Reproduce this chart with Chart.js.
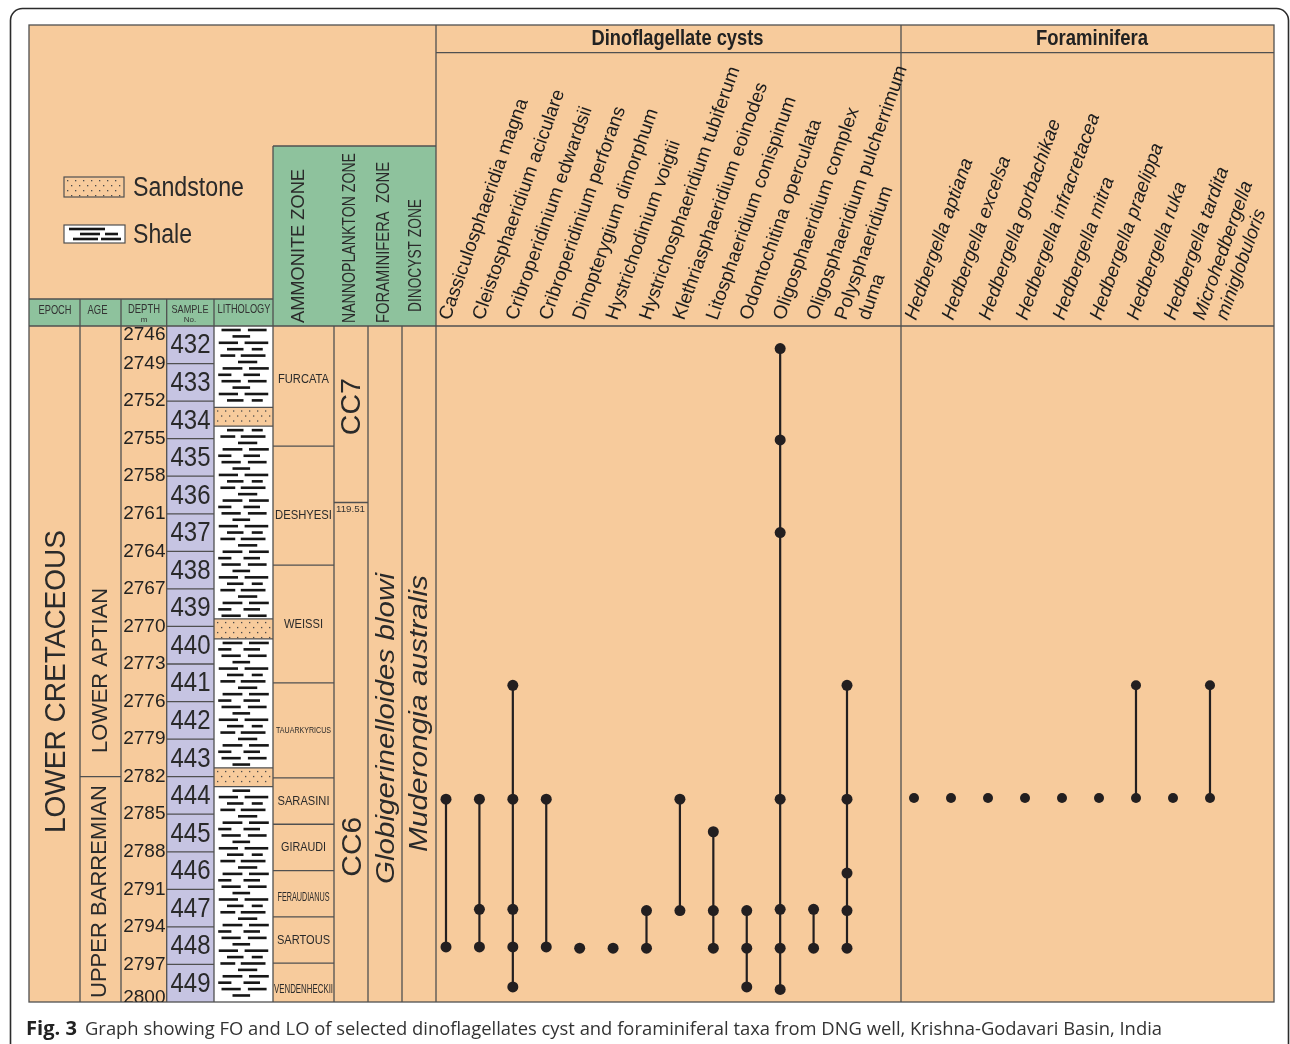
<!DOCTYPE html>
<html><head><meta charset="utf-8">
<script src="https://cdn.jsdelivr.net/npm/chart.js"></script>
<style>html,body{margin:0;padding:0;background:#fff}canvas{display:block}</style>
</head><body>
<canvas id="c" width="1290" height="1044" style="width:1290px;height:1044px"></canvas>
<script>
// ---------------- DATA ----------------
const depthTicks = [2746,2749,2752,2755,2758,2761,2764,2767,2770,2773,2776,2779,2782,2785,2788,2791,2794,2797,2800];
const sampleNos = ['432','433','434','435','436','437','438','439','440','441','442','443','444','445','446','447','448','449'];
const epochName = 'LOWER CRETACEOUS';
const ageNames = ['LOWER APTIAN','UPPER BARREMIAN'];
const ageBounds = [2746, 2782, 2800];
const ammoniteZones = ['FURCATA','DESHYESI','WEISSI','TAUARKYRICUS','SARASINI','GIRAUDI','FERAUDIANUS','SARTOUS','VENDENHECKII'];
const ammoniteBounds = [2746, 2755.6, 2765.1, 2774.5, 2782.1, 2785.8, 2789.5, 2793.2, 2796.9, 2800];
const nannoZones = ['CC7','CC6'];
const nannoBounds = [2746, 2760.1, 2800];
const nannoBoundaryLabel = '119.51';
const foramZoneName = 'Globigerinelloides blowi';
const dinoZoneName = 'Muderongia australis';
const sandstoneBeds = [[2752.5, 2754.0], [2769.4, 2771.0], [2781.3, 2782.8]];

const dinoTaxa = ['Cassiculosphaeridia magna','Cleistosphaeridium aciculare','Cribroperidinium edwardsii',
  'Cribroperidinium perforans','Dinopterygium dimorphum','Hystrichodinium voigtii','Hystrichosphaeridium tubiferum',
  'Klethriasphaeridium eoinodes','Litosphaeridium conispinum','Odontochitina operculata','Oligosphaeridium complex',
  'Oligosphaeridium pulcherrimum','Polysphaeridium\nduma'];
const dinoRanges = [
  [2783.8, 2795.6],
  [2783.8, 2792.6, 2795.6],
  [2774.7, 2783.8, 2792.6, 2795.6, 2798.8],
  [2783.8, 2795.6],
  [2795.7],
  [2795.7],
  [2792.7, 2795.7],
  [2783.8, 2792.7],
  [2786.4, 2792.7, 2795.7],
  [2792.7, 2795.7, 2798.8],
  [2747.8, 2755.1, 2762.5, 2783.8, 2792.6, 2795.7, 2799.0],
  [2792.6, 2795.7],
  [2774.7, 2783.8, 2789.7, 2792.7, 2795.7]
];
const foramTaxa = ['Hedbergella aptiana','Hedbergella excelsa','Hedbergella gorbachikae','Hedbergella infracretacea',
  'Hedbergella mitra','Hedbergella praelippa','Hedbergella ruka','Hedbergella tardita','Microhedbergella\nminiglobuloris'];
const foramRanges = [
  [2783.7],[2783.7],[2783.7],[2783.7],[2783.7],[2783.7],
  [2774.7, 2783.7],
  [2783.7],
  [2774.7, 2783.7]
];

// ---------------- STYLE ----------------
const PEACH = '#f7cb9c', GREEN = '#8ec29d', PURPLE = '#c6c4e2', LINE = '#505050', INK = '#231f20';
const FONT = '"Liberation Sans", Arial, sans-serif';

function txt(ctx, s, x, y, o) {
  ctx.save();
  ctx.translate(x, y);
  if (o.rot) ctx.rotate(o.rot * Math.PI / 180);
  ctx.font = (o.style || 'normal') + ' ' + (o.weight || 'normal') + ' ' + o.size + 'px ' + (o.family || FONT);
  const w = ctx.measureText(s).width;
  const sx = o.width ? o.width / w : 1;
  ctx.scale(sx, 1);
  ctx.textAlign = o.align || 'center';
  ctx.textBaseline = o.baseline || 'middle';
  ctx.fillStyle = o.color || '#222';
  ctx.fillText(s, 0, 0);
  ctx.restore();
}
function hline(ctx, x0, x1, y) { ctx.beginPath(); ctx.moveTo(x0, y); ctx.lineTo(x1, y); ctx.stroke(); }
function vline(ctx, x, y0, y1) { ctx.beginPath(); ctx.moveTo(x, y0); ctx.lineTo(x, y1); ctx.stroke(); }

const shaleRows = [
  [[0.10,0.45],[0.58,0.92]],
  [[0.30,0.62]],
  [[0.05,0.40],[0.52,0.95]],
  [[0.20,0.50],[0.65,0.85]],
  [[0.08,0.35],[0.45,0.90]],
  [[0.40,0.75]],
  [[0.12,0.48],[0.60,0.96]],
  [[0.04,0.28],[0.50,0.80]]
];
function drawShale(ctx, x0, x1, y0, y1, seed) {
  const w = x1 - x0;
  ctx.fillStyle = '#161616';
  let k = 0;
  for (let y = y0 + 4; y < y1 - 2; y += 6.4, k++) {
    shaleRows[(k + seed) % shaleRows.length].forEach(([a, b]) => ctx.fillRect(x0 + a * w, y - 1.3, (b - a) * w, 2.6));
  }
}
function drawSand(ctx, x0, x1, y0, y1) {
  ctx.fillStyle = PEACH; ctx.fillRect(x0, y0, x1 - x0, y1 - y0);
  ctx.fillStyle = '#4a4a4a';
  let r = 0;
  for (let y = y0 + 3; y < y1 - 1; y += 5, r++) {
    for (let x = x0 + 3 + (r % 2) * 4; x < x1 - 1; x += 8) ctx.fillRect(x, y, 1.3, 1.3);
  }
}

const figurePlugin = {
  id: 'figure',
  beforeDraw(chart) {
    const ctx = chart.ctx;
    const Y = v => chart.scales.y.getPixelForValue(v);
    const ca = chart.chartArea;
    const L = 29, T = 25, R = ca.right, B = ca.bottom, TOP = ca.top;
    ctx.save();
    ctx.fillStyle = '#fff'; ctx.fillRect(0, 0, chart.width, chart.height);
    // outer rounded frame
    ctx.strokeStyle = '#2b2b2b'; ctx.lineWidth = 1.6;
    ctx.beginPath(); ctx.moveTo(10.5, 1050); ctx.lineTo(10.5, 20.5); ctx.arcTo(10.5, 8.5, 22.5, 8.5, 12);
    ctx.lineTo(1276, 8.5); ctx.arcTo(1288.5, 8.5, 1288.5, 20.5, 12); ctx.lineTo(1288.5, 1050); ctx.stroke();
    // backgrounds
    ctx.fillStyle = PEACH; ctx.fillRect(L, T, R - L, B - T);
    ctx.fillStyle = GREEN; ctx.fillRect(L, 299, 273 - L, TOP - 299); ctx.fillRect(273, 146, 436 - 273, TOP - 146);
    ctx.fillStyle = PURPLE; ctx.fillRect(166.7, TOP, 214 - 166.7, B - TOP);
    ctx.fillStyle = '#fff'; ctx.fillRect(214, TOP, 273 - 214, B - TOP);
    // lithology
    ctx.save(); ctx.beginPath(); ctx.rect(214, TOP, 59, B - TOP); ctx.clip();
    let prev = depthTicks[0], seed = 0;
    sandstoneBeds.forEach(([a, b]) => {
      drawShale(ctx, 216, 271, Y(prev), Y(a), seed); seed += 3;
      drawSand(ctx, 214, 273, Y(a), Y(b)); prev = b;
    });
    drawShale(ctx, 216, 271, Y(prev), Y(depthTicks[depthTicks.length - 1]), seed);
    ctx.restore();
    // legend
    drawSand(ctx, 64, 124, 177, 197);
    ctx.fillStyle = '#fff'; ctx.fillRect(64, 225, 61, 18);
    ctx.fillStyle = '#161616';
    [[69,105,229],[80,100,234],[105,118,234],[73,98,239],[101,121,239]].forEach(([a,b,y]) => ctx.fillRect(a, y - 1.3, b - a, 2.6));
    ctx.strokeStyle = LINE; ctx.lineWidth = 1.2;
    ctx.strokeRect(64, 177, 60, 20); ctx.strokeRect(64, 225, 61, 18);
    txt(ctx, 'Sandstone', 133, 188.5, {size: 27, align: 'left', width: 111, color: '#2a2a2a'});
    txt(ctx, 'Shale', 133, 235.5, {size: 27, align: 'left', width: 59, color: '#2a2a2a'});

    // ----- lines -----
    ctx.strokeStyle = LINE; ctx.lineWidth = 1.3;
    ctx.strokeRect(L, T, R - L, B - T);
    hline(ctx, L, R, TOP);
    hline(ctx, L, 273, 299);
    hline(ctx, 273, 436, 146);
    vline(ctx, 273, 146, B);
    vline(ctx, 436, T, B);
    vline(ctx, 901, T, B);
    hline(ctx, 436, R, 52.7);
    [80, 121, 166.7, 214].forEach(x => vline(ctx, x, 299, B));
    [334, 368, 402].forEach(x => vline(ctx, x, TOP, B));
    ageBounds.slice(1, -1).forEach(d => hline(ctx, 80, 121, Y(d)));
    depthTicks.slice(1, -1).forEach(d => hline(ctx, 166.7, 214, Y(d)));
    sandstoneBeds.forEach(([a, b]) => { hline(ctx, 214, 273, Y(a)); hline(ctx, 214, 273, Y(b)); });
    ammoniteBounds.slice(1, -1).forEach(d => hline(ctx, 273, 334, Y(d)));
    nannoBounds.slice(1, -1).forEach(d => hline(ctx, 334, 368, Y(d)));

    // ----- header texts -----
    txt(ctx, 'EPOCH', 55, 310.5, {size: 12, width: 33, color: '#333'});
    txt(ctx, 'AGE', 97.5, 310.5, {size: 12, width: 20, color: '#333'});
    txt(ctx, 'DEPTH', 144, 310, {size: 12, width: 32, color: '#333'});
    txt(ctx, 'm', 144, 319.5, {size: 8, color: '#333'});
    txt(ctx, 'SAMPLE', 190, 309.5, {size: 11, width: 37, color: '#333'});
    txt(ctx, 'No.', 190, 319.5, {size: 8, color: '#333'});
    txt(ctx, 'LITHOLOGY', 244, 310, {size: 12, width: 53, color: '#333'});
    txt(ctx, 'AMMONITE ZONE', 299, 323, {size: 19, rot: -90, align: 'left', width: 154, color: '#2a2a2a'});
    txt(ctx, 'NANNOPLANKTON ZONE', 350, 323, {size: 18, rot: -90, align: 'left', width: 170, color: '#2a2a2a'});
    txt(ctx, 'FORAMINIFERA  ZONE', 383.7, 323, {size: 18, rot: -90, align: 'left', width: 161, color: '#2a2a2a'});
    txt(ctx, 'DINOCYST ZONE', 416.5, 312, {size: 18, rot: -90, align: 'left', width: 113, color: '#2a2a2a'});
    txt(ctx, 'Dinoflagellate cysts', 677.5, 44.5, {size: 22, weight: 'bold', baseline: 'alphabetic', width: 172, color: '#222'});
    txt(ctx, 'Foraminifera', 1092, 44.5, {size: 22, weight: 'bold', baseline: 'alphabetic', width: 112, color: '#222'});

    // ----- left column texts -----
    ctx.save(); ctx.beginPath(); ctx.rect(L, TOP, R - L, B - TOP); ctx.clip();
    txt(ctx, epochName, 56.5, 681.5, {size: 30, rot: -90, width: 303, color: '#2a2a2a'});
    const ageW = [165, 213], ageCenter = [670.5, 891.5], ageX = [101, 99.5];
    ageNames.forEach((n, i) => txt(ctx, n, ageX[i], ageCenter[i], {size: 22, rot: -90, width: ageW[i], color: '#2a2a2a'}));
    depthTicks.forEach((d, i) => {
      let y = Y(d);
      if (i === 0) y += 9; else if (i === depthTicks.length - 1) y -= 4;
      txt(ctx, String(d), 165.5, y, {size: 19, align: 'right', color: '#222'});
    });
    sampleNos.forEach((s, i) => txt(ctx, s, 190.5, (Y(depthTicks[i]) + Y(depthTicks[i + 1])) / 2 + 1, {size: 28, width: 40, color: '#2a2a2a'}));
    const amSize = [12.5, 13, 13, 8.5, 13, 13, 13, 13, 12.5];
    const amW = [51, 57, 39, 55, 52, 45, 52, 53, 59];
    const amShift = [-7, 10, 0, 0, 0, 0, 4, 0, 7];
    ammoniteZones.forEach((z, i) => txt(ctx, z, 303.5, (Y(ammoniteBounds[i]) + Y(ammoniteBounds[i + 1])) / 2 + amShift[i], {size: amSize[i], width: amW[i], color: '#2a2a2a'}));
    txt(ctx, nannoZones[0], 352.5, 406.7, {size: 27, rot: -90, width: 57, color: '#2a2a2a'});
    txt(ctx, nannoZones[1], 354, 846.7, {size: 27, rot: -90, width: 60, color: '#2a2a2a'});
    txt(ctx, nannoBoundaryLabel, 336, Y(nannoBounds[1]) + 7.5, {size: 9, align: 'left', width: 29, color: '#333'});
    txt(ctx, foramZoneName, 387, 728.5, {size: 26, rot: -90, style: 'italic', width: 311, color: '#2a2a2a'});
    txt(ctx, dinoZoneName, 420, 713.5, {size: 26, rot: -90, style: 'italic', width: 277, color: '#2a2a2a'});
    ctx.restore();

    // ----- taxa labels -----
    const xs = chart.scales.x, xf = chart.scales.x2;
    dinoTaxa.forEach((name, i) => {
      const x = xs.getPixelForValue(i);
      const lines = name.split('\n');
      const sh = lines.length > 1 ? -5 : 0;
      lines.forEach((ln, j) => txt(ctx, ln, x + 4 + sh + j * 23, 321, {size: 19, rot: -70.5, align: 'left', baseline: 'alphabetic', color: '#1d1d1d'}));
    });
    foramTaxa.forEach((name, i) => {
      const x = xf.getPixelForValue(i);
      const lines = name.split('\n');
      const sh = lines.length > 1 ? -8 : 0;
      lines.forEach((ln, j) => txt(ctx, ln, x + 2 + sh + j * 23, 321, {size: 19, rot: -70.5, style: 'italic', align: 'left', baseline: 'alphabetic', color: '#1d1d1d'}));
    });

    // ----- caption -----
    txt(ctx, 'Fig. 3', 26, 1035, {size: 19, weight: 'bold', family: '"Open Sans", sans-serif', align: 'left', baseline: 'alphabetic', width: 51, color: '#222'});
    txt(ctx, 'Graph showing FO and LO of selected dinoflagellates cyst and foraminiferal taxa from DNG well, Krishna-Godavari Basin, India',
      85, 1035, {size: 19, family: '"Open Sans", sans-serif', align: 'left', baseline: 'alphabetic', width: 1077, color: '#333'});
    ctx.restore();
  }
};

const datasets = [];
dinoRanges.forEach((ds, i) => datasets.push({
  label: dinoTaxa[i], xAxisID: 'x', yAxisID: 'y', showLine: true, clip: false,
  data: ds.map(d => ({x: i, y: d})),
  borderColor: INK, borderWidth: 2.2, pointRadius: 5.5, pointBackgroundColor: INK, pointBorderWidth: 0, pointHoverRadius: 5.5
}));
foramRanges.forEach((ds, i) => datasets.push({
  label: foramTaxa[i], xAxisID: 'x2', yAxisID: 'y', showLine: true, clip: false,
  data: ds.map(d => ({x: i, y: d})),
  borderColor: INK, borderWidth: 2.2, pointRadius: 5, pointBackgroundColor: INK, pointBorderWidth: 0, pointHoverRadius: 5
}));

new Chart(document.getElementById('c'), {
  type: 'scatter',
  data: {datasets},
  options: {
    responsive: false, animation: false, devicePixelRatio: 1,
    layout: {padding: {left: 436, right: 16, top: 326, bottom: 42}},
    plugins: {legend: {display: false}, tooltip: {enabled: false}},
    events: [],
    scales: {
      x: {type: 'linear', min: -0.2993, max: 24.778, display: false},
      x2: {type: 'linear', min: -12.919, max: 9.730, display: false},
      y: {type: 'linear', reverse: true, min: 2746, max: 2800, display: false}
    }
  },
  plugins: [figurePlugin]
});
</script></body></html>
